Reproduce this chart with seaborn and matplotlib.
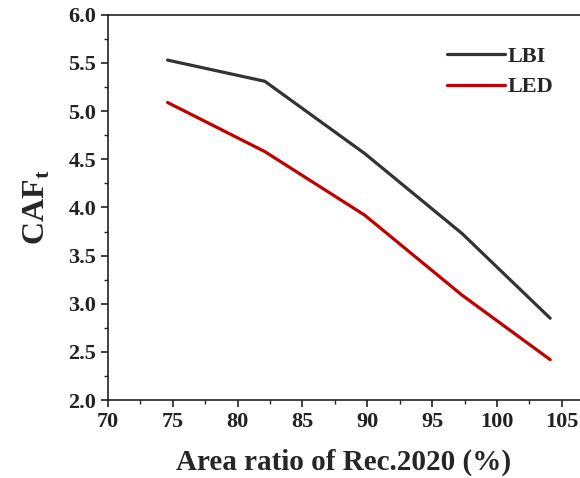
import pandas as pd
import seaborn as sns
import matplotlib.pyplot as plt
from matplotlib.ticker import MultipleLocator

# datos
area_ratio = [74.6, 82.1, 89.8, 97.3, 104.1]
lbi = [5.53, 5.31, 4.56, 3.73, 2.85]
led = [5.09, 4.58, 3.92, 3.09, 2.42]

df = pd.DataFrame({
    "Area": area_ratio * 2,
    "CAF": lbi + led,
    "Fuente": ["LBI"] * len(lbi) + ["LED"] * len(led),
})

sns.set_style("ticks")
plt.rcParams["font.family"] = ["Liberation Serif", "DejaVu Serif"]
plt.rcParams["font.weight"] = "bold"
plt.rcParams["mathtext.fontset"] = "custom"
plt.rcParams["mathtext.rm"] = "Liberation Serif:bold"
plt.rcParams["mathtext.bf"] = "Liberation Serif:bold"

fig = plt.figure(figsize=(5.8, 4.78), dpi=100)
ax = fig.add_axes([0.186, 0.163, 0.814, 0.806])

sns.lineplot(data=df, x="Area", y="CAF", hue="Fuente",
             palette={"LBI": "#333333", "LED": "#c00000"},
             linewidth=2.3, ax=ax)

ax.set_xlim(70, 106.4)
ax.set_ylim(2.0, 6.0)
ax.xaxis.set_major_locator(MultipleLocator(5))
ax.xaxis.set_minor_locator(MultipleLocator(2.5))
ax.yaxis.set_major_locator(MultipleLocator(0.5))
ax.yaxis.set_minor_locator(MultipleLocator(0.25))
ax.tick_params(which="major", direction="out", length=5, width=1.2, labelsize=16, colors="#222222")
ax.tick_params(which="minor", direction="out", length=3, width=1.0)
for lab in ax.get_xticklabels() + ax.get_yticklabels():
    lab.set_fontweight("bold")
ax.yaxis.set_major_formatter(plt.FormatStrFormatter("%.1f"))

for s in ["left", "bottom", "top"]:
    ax.spines[s].set_linewidth(1.2)
    ax.spines[s].set_color("#222222")
ax.spines["right"].set_visible(False)

ax.set_xlabel("Area ratio of Rec.2020 (%)", fontsize=21, fontweight="bold", labelpad=12)
ax.set_ylabel(r"CAF$_{\mathbf{t}}$", fontsize=23, fontweight="bold", labelpad=12)

leg = ax.legend(loc="upper right", frameon=False, fontsize=16, handlelength=2.6,
                handletextpad=0.1, labelspacing=0.45, bbox_to_anchor=(0.985, 0.97))
for t in leg.get_texts():
    t.set_fontweight("bold")

fig.savefig("out.png", dpi=100)
